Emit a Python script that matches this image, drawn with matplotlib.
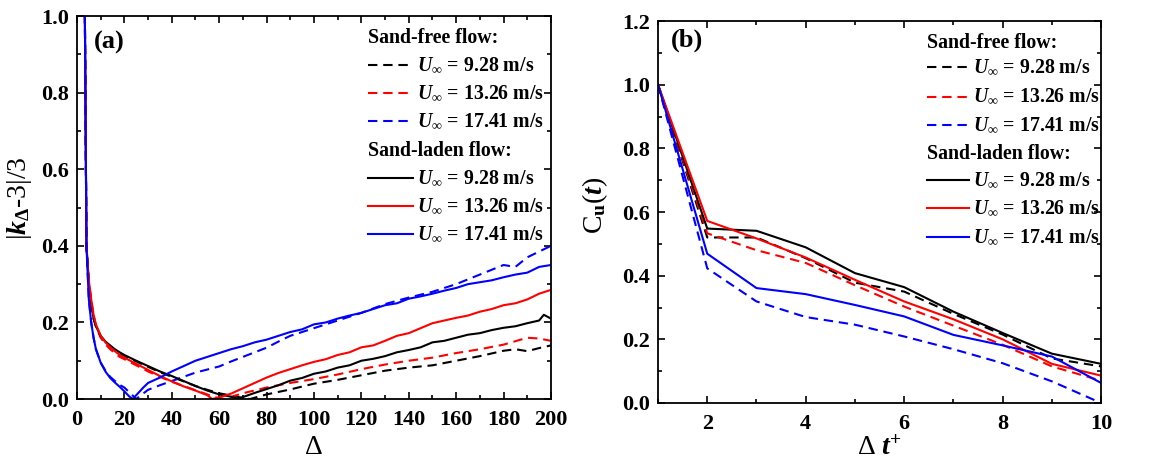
import matplotlib
matplotlib.use('Agg')
import matplotlib.pyplot as plt
from matplotlib.ticker import MultipleLocator
import numpy as np

plt.rcParams['font.family'] = ['Liberation Serif', 'DejaVu Serif']
plt.rcParams['font.weight'] = 'bold'
plt.rcParams['mathtext.fontset'] = 'custom'
plt.rcParams['mathtext.rm'] = 'Liberation Serif:bold'
plt.rcParams['mathtext.it'] = 'Liberation Serif:italic'
plt.rcParams['mathtext.bf'] = 'Liberation Serif:bold'
plt.rcParams['mathtext.bfit'] = 'Liberation Serif:bold:italic'
plt.rcParams['axes.linewidth'] = 1.3

# ---- panel (a): |k_delta - 3|/3 vs delta ----
# sand-laden, black (9.28 m/s)
d_black = [3, 4, 5, 6, 7, 8, 10, 12, 14, 16, 18, 20, 25, 30, 35, 40, 45, 50, 55, 60, 65, 68,
           70, 75, 80, 85, 90, 95, 100, 105, 110, 115, 120, 125, 130, 135, 140, 145, 150,
           155, 160, 165, 170, 175, 180, 185, 190, 195, 197, 200]
k_black = [1.3, 0.40, 0.30, 0.25, 0.21, 0.19, 0.165, 0.15, 0.14, 0.13, 0.122, 0.115, 0.10, 0.086,
           0.072, 0.06, 0.047, 0.034, 0.022, 0.012, 0.006, 0.0,
           0.005, 0.016, 0.026, 0.036, 0.048, 0.055, 0.066, 0.072, 0.082, 0.088, 0.10, 0.105,
           0.112, 0.122, 0.128, 0.135, 0.148, 0.152, 0.16, 0.168, 0.172, 0.18, 0.186, 0.19,
           0.198, 0.205, 0.22, 0.21]
# sand-free, black dashed
d_black_f = [3, 4, 5, 6, 7, 8, 10, 12, 14, 16, 18, 20, 25, 30, 35, 40, 45, 50, 55, 60, 65, 70,
             73, 80, 90, 100, 110, 120, 130, 140, 150, 160, 170, 180, 185, 190, 195, 200]
k_black_f = [1.3, 0.40, 0.30, 0.25, 0.21, 0.19, 0.163, 0.148, 0.137, 0.128, 0.12, 0.113, 0.098,
             0.084, 0.07, 0.058, 0.046, 0.034, 0.024, 0.015, 0.009, 0.003,
             0.0, 0.012, 0.025, 0.04, 0.05, 0.062, 0.074, 0.082, 0.088, 0.1, 0.112, 0.126,
             0.13, 0.125, 0.133, 0.14]
# sand-laden, red (13.26 m/s)
d_red = [3, 4, 5, 6, 7, 8, 10, 12, 14, 16, 18, 20, 25, 30, 35, 40, 45, 50, 55, 57,
         60, 65, 70, 75, 80, 85, 90, 95, 100, 105, 110, 115, 120, 125, 130, 135, 140, 145,
         150, 155, 160, 165, 170, 175, 180, 185, 190, 195, 200]
k_red = [1.3, 0.40, 0.31, 0.26, 0.22, 0.195, 0.165, 0.148, 0.135, 0.125, 0.115, 0.108, 0.092,
         0.076, 0.06, 0.046, 0.033, 0.022, 0.01, 0.0,
         0.004, 0.014, 0.028, 0.042, 0.056, 0.068, 0.078, 0.088, 0.097, 0.104, 0.115, 0.122,
         0.135, 0.14, 0.152, 0.165, 0.172, 0.185, 0.198, 0.205, 0.212, 0.218, 0.228, 0.235,
         0.245, 0.25, 0.26, 0.275, 0.285]
# sand-free, red dashed
d_red_f = [3, 4, 5, 6, 7, 8, 10, 12, 14, 16, 18, 20, 25, 30, 35, 40, 45, 50, 55, 58, 62,
           70, 80, 90, 100, 110, 120, 130, 140, 150, 160, 170, 180, 190, 195, 200]
k_red_f = [1.3, 0.40, 0.31, 0.26, 0.22, 0.19, 0.16, 0.143, 0.13, 0.12, 0.11, 0.104, 0.088,
           0.072, 0.058, 0.045, 0.034, 0.023, 0.012, 0.005, 0.0,
           0.015, 0.03, 0.042, 0.052, 0.064, 0.078, 0.09, 0.1, 0.108, 0.12, 0.13, 0.142,
           0.16, 0.158, 0.152]
# sand-laden, blue (17.41 m/s)
d_blue = [3, 4, 5, 6, 7, 8, 10, 12, 14, 16, 18, 20, 22, 23.5, 25, 28, 30, 35, 40, 45, 50,
          55, 60, 65, 70, 75, 80, 85, 90, 95, 100, 105, 110, 115, 120, 125, 130, 135, 140,
          145, 150, 155, 160, 165, 170, 175, 180, 185, 190, 195, 200]
k_blue = [1.3, 0.40, 0.26, 0.2, 0.16, 0.13, 0.095, 0.072, 0.055, 0.043, 0.032, 0.02, 0.007,
          0.0, 0.01, 0.03, 0.042, 0.056, 0.072, 0.086, 0.1, 0.11, 0.12, 0.13, 0.138, 0.148,
          0.155, 0.165, 0.175, 0.182, 0.195, 0.2, 0.21, 0.218, 0.225, 0.235, 0.245, 0.25,
          0.262, 0.268, 0.275, 0.283, 0.29, 0.3, 0.305, 0.31, 0.318, 0.325, 0.33, 0.345, 0.35]
# sand-free, blue dashed
d_blue_f = [3, 4, 5, 6, 7, 8, 10, 12, 14, 16, 18, 20, 22, 25, 27, 30, 35, 40, 45, 50, 55,
            60, 65, 70, 75, 80, 85, 90, 95, 100, 110, 120, 130, 140, 150, 160, 170, 180,
            185, 190, 200]
k_blue_f = [1.3, 0.40, 0.26, 0.2, 0.16, 0.13, 0.095, 0.074, 0.058, 0.047, 0.037, 0.03, 0.018,
            0.0, 0.01, 0.024, 0.036, 0.047, 0.058, 0.069, 0.077, 0.085, 0.098, 0.11, 0.122,
            0.134, 0.15, 0.165, 0.175, 0.185, 0.205, 0.225, 0.248, 0.265, 0.28, 0.3, 0.325,
            0.35, 0.345, 0.37, 0.40]

# ---- panel (b): C_u(t) vs delta t+ ----
dt = [1, 2, 3, 4, 5, 6, 7, 8, 9, 10]
cu_black = [1.0, 0.548, 0.541, 0.489, 0.408, 0.364, 0.287, 0.22, 0.155, 0.123]
cu_black_f = [1.0, 0.52, 0.52, 0.455, 0.378, 0.35, 0.28, 0.215, 0.14, 0.115]
cu_red = [1.0, 0.572, 0.517, 0.457, 0.387, 0.319, 0.263, 0.2, 0.123, 0.086]
cu_red_f = [1.0, 0.533, 0.48, 0.44, 0.37, 0.303, 0.243, 0.183, 0.115, 0.07]
cu_blue = [1.0, 0.469, 0.361, 0.342, 0.308, 0.272, 0.214, 0.181, 0.146, 0.063]
cu_blue_f = [1.0, 0.423, 0.319, 0.27, 0.246, 0.209, 0.169, 0.125, 0.068, 0.0]

speeds = ['9.28', '13.26', '17.41']
colors = ['black', '#ff0000', '#0000ff']
dash = (0, (4.5, 2.8))
lw = 1.5


def draw_legend(ax, x0, x1, ys):
    # ys: header1, 3 dashed rows, header2, 3 solid rows (axes fraction)
    fs = 14.3
    ax.text(x0, ys[0], 'Sand-free flow:', transform=ax.transAxes, fontsize=fs, va='center')
    ax.text(x0, ys[4], 'Sand-laden flow:', transform=ax.transAxes, fontsize=fs, va='center')
    for i in range(3):
        for row, ls in ((ys[1 + i], dash), (ys[5 + i], '-')):
            ax.plot([x0, x1], [row, row], transform=ax.transAxes, color=colors[i],
                    linestyle=ls, lw=lw, clip_on=False)
            ax.text(x1 + 0.01, row, r'$\mathbfit{U}_{\infty}$ = ' + speeds[i] + ' m/s',
                    transform=ax.transAxes, fontsize=fs, va='center')


def style_axes(ax):
    ax.tick_params(which='both', direction='in', top=True, right=True, labelsize=16,
                   width=1.2)
    ax.tick_params(which='major', length=5)
    ax.tick_params(which='minor', length=3)
    ax.tick_params(axis='x', which='major', pad=8)
    ax.tick_params(axis='y', which='major', pad=6)
    for lab in ax.get_xticklabels() + ax.get_yticklabels():
        lab.set_fontweight('bold')


fig = plt.figure(figsize=(11.49, 4.63), dpi=100)
ax1 = fig.add_axes([0.067, 0.1382, 0.4125, 0.827])
ax2 = fig.add_axes([0.5727, 0.1296, 0.3856, 0.825])

# panel (a)
ax1.plot(d_black_f, k_black_f, color=colors[0], ls=dash, lw=lw)
ax1.plot(d_red_f, k_red_f, color=colors[1], ls=dash, lw=lw)
ax1.plot(d_blue_f, k_blue_f, color=colors[2], ls=dash, lw=lw)
ax1.plot(d_black, k_black, color=colors[0], lw=lw)
ax1.plot(d_red, k_red, color=colors[1], lw=lw)
ax1.plot(d_blue, k_blue, color=colors[2], lw=lw)
ax1.set_xlim(0, 200)
ax1.set_ylim(0, 1.0)
ax1.xaxis.set_major_locator(MultipleLocator(20))
ax1.xaxis.set_minor_locator(MultipleLocator(10))
ax1.yaxis.set_major_locator(MultipleLocator(0.2))
ax1.yaxis.set_minor_locator(MultipleLocator(0.1))
ax1.yaxis.set_major_formatter(plt.FormatStrFormatter('%.1f'))
style_axes(ax1)
ax1.set_xlabel('Δ', fontsize=20, va='top')
ax1.xaxis.set_label_coords(0.5, -0.093)
ax1.set_ylabel(r'|$\mathbfit{k}_{\Delta}$-3|/3', fontsize=20, fontweight='normal')
ax1.yaxis.set_label_coords(-0.09, 0.525)
ax1.text(0.036, 0.93, '(a)', transform=ax1.transAxes, fontsize=19, va='center')
draw_legend(ax1, 0.613, 0.708, [0.943, 0.872, 0.799, 0.726, 0.648, 0.577, 0.504, 0.431])

# panel (b)
ax2.plot(dt, cu_black_f, color=colors[0], ls=dash, lw=lw)
ax2.plot(dt, cu_red_f, color=colors[1], ls=dash, lw=lw)
ax2.plot(dt, cu_blue_f, color=colors[2], ls=dash, lw=lw)
ax2.plot(dt, cu_black, color=colors[0], lw=lw)
ax2.plot(dt, cu_red, color=colors[1], lw=lw)
ax2.plot(dt, cu_blue, color=colors[2], lw=lw)
ax2.set_xlim(1, 10)
ax2.set_ylim(0, 1.2)
ax2.xaxis.set_major_locator(MultipleLocator(2))
ax2.xaxis.set_minor_locator(MultipleLocator(1))
ax2.yaxis.set_major_locator(MultipleLocator(0.2))
ax2.yaxis.set_minor_locator(MultipleLocator(0.1))
ax2.yaxis.set_major_formatter(plt.FormatStrFormatter('%.1f'))
style_axes(ax2)
ax2.set_xlabel(r'Δ $\mathbfit{t}^{+}$', fontsize=20, va='top')
ax2.xaxis.set_label_coords(0.5, -0.087)
ax2.set_ylabel(r'C$_{\mathbf{u}}$($\mathbfit{t}$)', fontsize=20)
ax2.yaxis.set_label_coords(-0.108, 0.518)
ax2.text(0.03, 0.95, '(b)', transform=ax2.transAxes, fontsize=19, va='center')
draw_legend(ax2, 0.607, 0.702, [0.943, 0.880, 0.802, 0.728, 0.652, 0.584, 0.510, 0.435])

fig.savefig('out.png', dpi=100)
